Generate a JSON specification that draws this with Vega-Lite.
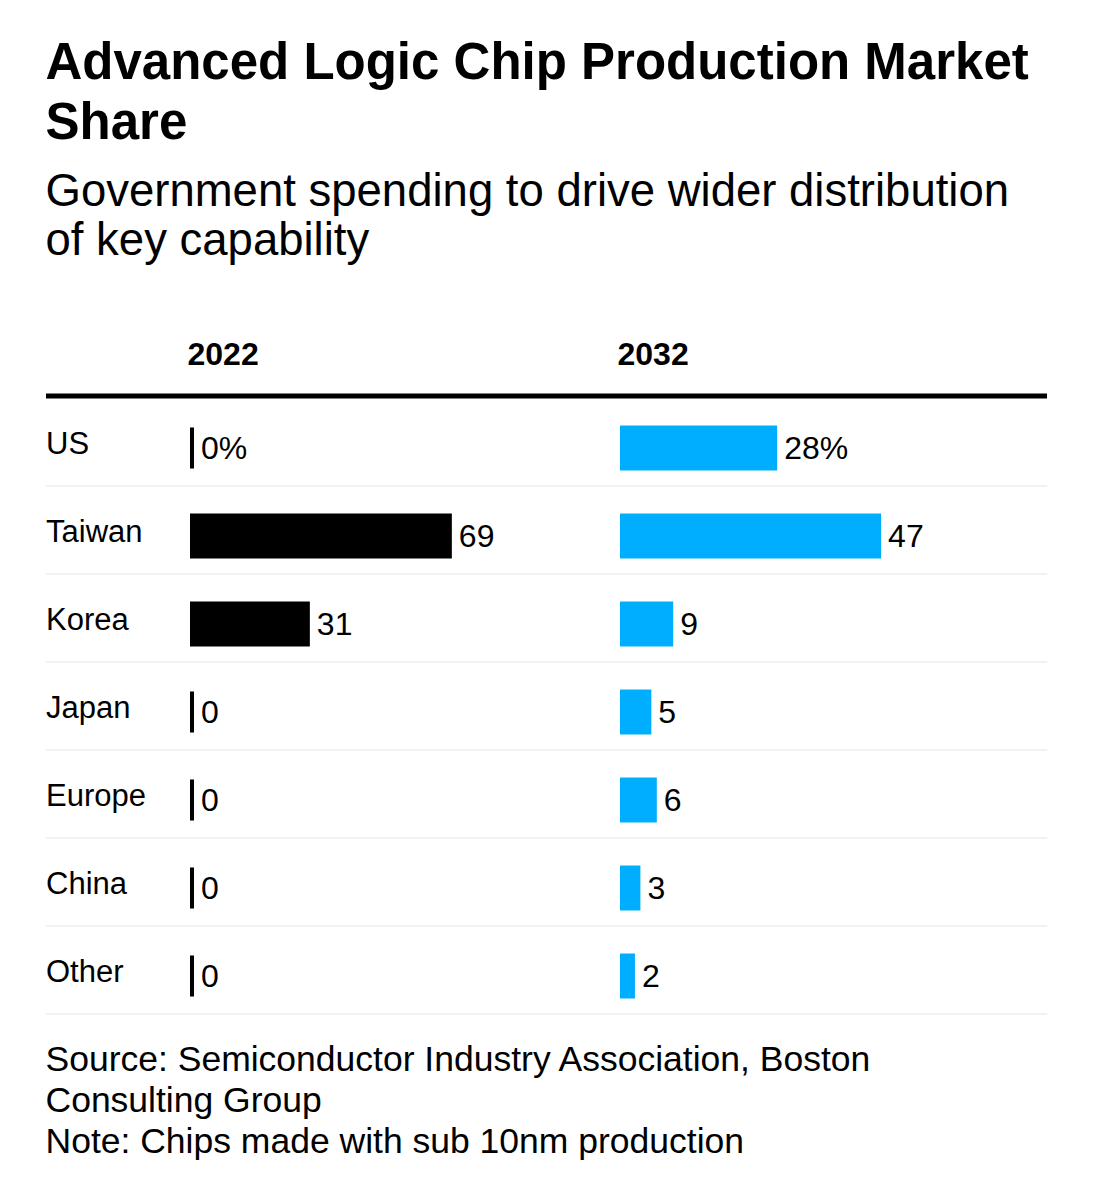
{
  "$schema": "https://vega.github.io/schema/vega-lite/v6.json",
  "background": "white",
  "padding": {"left": 43, "right": 20, "top": 38, "bottom": 10},
  "config": {
    "view": {"stroke": null},
    "font": "Liberation Sans",
    "text": {"font": "Liberation Sans"}
  },
  "title": {
    "text": ["Advanced Logic Chip Production Market", "Share"],
    "subtitle": ["Government spending to drive wider distribution", "of key capability"],
    "anchor": "start",
    "dx": 2,
    "font": "Liberation Sans",
    "fontSize": 51,
    "fontWeight": "bold",
    "lineHeight": 60,
    "color": "#000000",
    "subtitleFont": "Liberation Sans",
    "subtitleFontSize": 45.5,
    "subtitleLineHeight": 49,
    "subtitleColor": "#000000",
    "subtitlePadding": 20,
    "offset": 73
  },
  "data": {
    "values": [
      {"country": "US", "v2022": 0, "v2032": 28, "l2022": "0%", "l2032": "28%"},
      {"country": "Taiwan", "v2022": 69, "v2032": 47, "l2022": "69", "l2032": "47"},
      {"country": "Korea", "v2022": 31, "v2032": 9, "l2022": "31", "l2032": "9"},
      {"country": "Japan", "v2022": 0, "v2032": 5, "l2022": "0", "l2032": "5"},
      {"country": "Europe", "v2022": 0, "v2032": 6, "l2022": "0", "l2032": "6"},
      {"country": "China", "v2022": 0, "v2032": 3, "l2022": "0", "l2032": "3"},
      {"country": "Other", "v2022": 0, "v2032": 2, "l2022": "0", "l2032": "2"}
    ]
  },
  "vconcat": [
    {
      "title": {
        "text": ["Source: Semiconductor Industry Association, Boston", "Consulting Group", "Note: Chips made with sub 10nm production"],
        "orient": "bottom",
        "anchor": "start",
        "dx": 2,
        "font": "Liberation Sans",
        "fontSize": 35.5,
        "fontWeight": "normal",
        "lineHeight": 41,
        "color": "#000000",
        "offset": 28
      },
      "spacing": 0,
      "bounds": "flush",
      "hconcat": [
        {
          "width": 146,
          "height": 616,
          "title": {"text": " ", "anchor": "start", "fontSize": 32, "fontWeight": "bold", "font": "Liberation Sans", "baseline": "alphabetic", "offset": -3},
          "layer": [
            {
              "mark": {"type": "rule", "color": "#eeeeee", "strokeWidth": 1.5},
              "encoding": {"y": {"field": "country", "type": "nominal", "sort": null, "bandPosition": 1, "axis": null, "scale": {"paddingInner": 0, "paddingOuter": 0}}}
            },
            {
              "transform": [{"filter": "datum.country === 'US'"}],
              "mark": {"type": "rule", "color": "#000000", "strokeWidth": 5, "yOffset": -2},
              "encoding": {"y": {"field": "country", "type": "nominal", "sort": null, "bandPosition": 0}}
            },
            {
              "mark": {"type": "text", "align": "left", "baseline": "middle", "fontSize": 31, "yOffset": 3, "color": "#000000"},
              "encoding": {
                "y": {"field": "country", "type": "nominal", "sort": null},
                "x": {"datum": 0, "type": "quantitative", "scale": {"domain": [0, 1]}, "axis": null},
                "text": {"field": "country"}
              }
            }
          ]
        },
        {
          "width": 430,
          "height": 616,
          "title": {"text": "2022", "anchor": "start", "fontSize": 32, "fontWeight": "bold", "font": "Liberation Sans", "baseline": "alphabetic", "offset": -3, "dx": -2, "color": "#000000"},
          "layer": [
            {
              "mark": {"type": "rule", "color": "#eeeeee", "strokeWidth": 1.5},
              "encoding": {"y": {"field": "country", "type": "nominal", "sort": null, "bandPosition": 1, "axis": null, "scale": {"paddingInner": 0, "paddingOuter": 0}}}
            },
            {
              "transform": [{"filter": "datum.country === 'US'"}],
              "mark": {"type": "rule", "color": "#000000", "strokeWidth": 5, "yOffset": -2},
              "encoding": {"y": {"field": "country", "type": "nominal", "sort": null, "bandPosition": 0}}
            },
            {
              "mark": {"type": "bar", "color": "#000000", "stroke": "#000000", "strokeWidth": 4, "height": 41, "yOffset": 6},
              "encoding": {
                "y": {"field": "country", "type": "nominal", "sort": null},
                "x": {"field": "v2022", "type": "quantitative", "scale": {"domain": [0, 115.07], "nice": false}, "axis": null}
              }
            },
            {
              "mark": {"type": "text", "align": "left", "baseline": "middle", "fontSize": 32, "dx": 9, "yOffset": 7, "color": "#000000"},
              "encoding": {
                "y": {"field": "country", "type": "nominal", "sort": null},
                "x": {"field": "v2022", "type": "quantitative"},
                "text": {"field": "l2022"}
              }
            }
          ]
        },
        {
          "width": 425,
          "height": 616,
          "title": {"text": "2032", "anchor": "start", "fontSize": 32, "fontWeight": "bold", "font": "Liberation Sans", "baseline": "alphabetic", "offset": -3, "dx": -2, "color": "#000000"},
          "layer": [
            {
              "mark": {"type": "rule", "color": "#eeeeee", "strokeWidth": 1.5},
              "encoding": {"y": {"field": "country", "type": "nominal", "sort": null, "bandPosition": 1, "axis": null, "scale": {"paddingInner": 0, "paddingOuter": 0}}}
            },
            {
              "transform": [{"filter": "datum.country === 'US'"}],
              "mark": {"type": "rule", "color": "#000000", "strokeWidth": 5, "yOffset": -2},
              "encoding": {"y": {"field": "country", "type": "nominal", "sort": null, "bandPosition": 0}}
            },
            {
              "mark": {"type": "bar", "color": "#00aeff", "stroke": "#00aeff", "strokeWidth": 4, "height": 41, "yOffset": 6},
              "encoding": {
                "y": {"field": "country", "type": "nominal", "sort": null},
                "x": {"field": "v2032", "type": "quantitative", "scale": {"domain": [0, 77.7], "nice": false}, "axis": null}
              }
            },
            {
              "mark": {"type": "text", "align": "left", "baseline": "middle", "fontSize": 32, "dx": 9, "yOffset": 7, "color": "#000000"},
              "encoding": {
                "y": {"field": "country", "type": "nominal", "sort": null},
                "x": {"field": "v2032", "type": "quantitative"},
                "text": {"field": "l2032"}
              }
            }
          ]
        }
      ]
    }
  ]
}
